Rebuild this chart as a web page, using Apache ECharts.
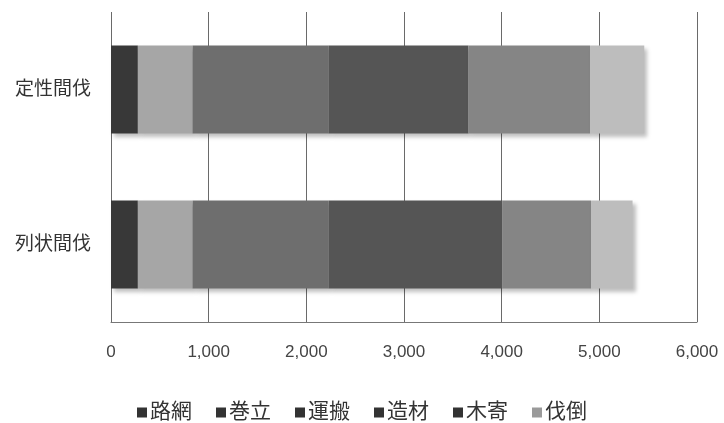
<!DOCTYPE html>
<html>
<head>
<meta charset="utf-8">
<script src="https://cdn.jsdelivr.net/npm/echarts@6/dist/echarts.min.js"></script>
<style>
  html, body { margin: 0; padding: 0; background: #fff; }
  #chart { width: 724px; height: 423px; }
</style>
</head>
<body>
<div id="chart"></div>
<script>
// 区分
const categories = ['列状間伐', '定性間伐']
// 工程名（凡例の順）
const seriesNames = ['路網', '巻立', '運搬', '造材', '木寄', '伐倒']
// 各工程の値（列状, 定性）
const roumou = [275, 275]
const makitate = [560, 560]
const unpan = [1395, 1395]
const zouzai = [1775, 1430]
const kiyose = [910, 1245]
const batto = [425, 555]
const xTicks = [0, 1000, 2000, 3000, 4000, 5000, 6000]

const values = [roumou, makitate, unpan, zouzai, kiyose, batto]
const colors = ['#383838', '#a6a6a6', '#6e6e6e', '#555555', '#858585', '#bdbdbd']
const font = '"Liberation Sans", "Noto Sans CJK JP", sans-serif'

const chart = echarts.init(document.getElementById('chart'))

const option = {
  animation: false,
  backgroundColor: '#fff',
  grid: { left: 111, right: 27, top: 12, bottom: 101 },
  legend: {
    top: 397,
    left: 'center',
    icon: 'rect',
    itemWidth: 10,
    itemHeight: 10,
    itemGap: 24,
    textStyle: { fontSize: 21, color: '#333', fontFamily: font, padding: [0, 0, 0, -2] },
    data: seriesNames.map((n, i) => ({
      name: n,
      itemStyle: { color: i === 5 ? '#9a9a9a' : '#333' }
    }))
  },
  xAxis: {
    type: 'value',
    min: xTicks[0],
    max: xTicks[xTicks.length - 1],
    interval: 1000,
    axisLine: { show: true, lineStyle: { color: '#777' } },
    axisTick: { show: false },
    axisLabel: {
      margin: 22,
      fontSize: 17,
      color: '#444',
      fontFamily: font,
      formatter: v => v.toLocaleString('en-US')
    },
    splitLine: { show: true, lineStyle: { color: '#6a6a6a', width: 1 } }
  },
  yAxis: {
    type: 'category',
    data: categories,
    axisLine: { show: false },
    axisTick: { show: false },
    axisLabel: { margin: 20, fontSize: 19, color: '#333', fontFamily: font }
  },
  series: seriesNames.map((name, i) => ({
    name: name,
    type: 'bar',
    stack: 'total',
    barWidth: 88,
    data: values[i],
    itemStyle: {
      color: colors[i],
      shadowColor: 'rgba(0,0,0,0.25)',
      shadowBlur: 4,
      shadowOffsetX: 3,
      shadowOffsetY: 3
    }
  }))
}

chart.setOption(option)
</script>
</body>
</html>
